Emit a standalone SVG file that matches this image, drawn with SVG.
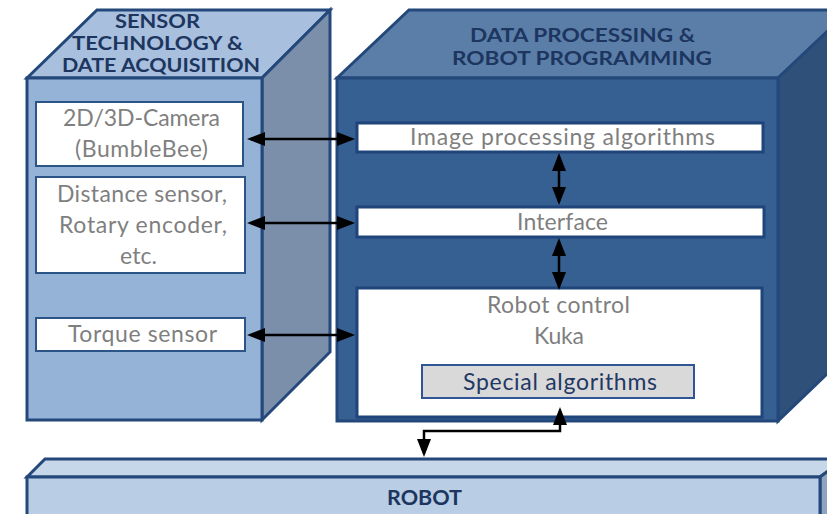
<svg xmlns="http://www.w3.org/2000/svg" width="827" height="514" viewBox="0 0 827 514">
  <style>
    .edge { stroke: #24487a; stroke-width: 3; stroke-linejoin: miter; }
    .title { font-family: Lato, "Liberation Sans", sans-serif; font-weight: bold; font-size: 18.5px; fill: #1d3660; text-anchor: middle; }
    .lbl { font-family: Lato, "Liberation Sans", sans-serif; font-size: 23px; fill: #7f7f7f; text-anchor: middle; }
    .card { fill: #ffffff; stroke: #2b5487; stroke-width: 2; }
    .card2 { fill: #ffffff; stroke: #1f457a; stroke-width: 3; }
    .conn { stroke: #000000; stroke-width: 2.5; fill: none; }
  </style>
  <defs>
    <marker id="head" markerUnits="userSpaceOnUse" markerWidth="18" markerHeight="14" refX="14" refY="7" orient="auto-start-reverse" viewBox="0 0 18 14">
      <path d="M0,0 L18,7 L0,14 z" fill="#000000"/>
    </marker>
  </defs>

  <rect width="827" height="514" fill="#ffffff"/>

  <!-- Sensor block -->
  <g id="sensor-block">
    <polygon class="edge" points="27,78 97,10 330,10 262,78" fill="#a8bfde"/>
    <polygon class="edge" points="262,78 330,10 330,352 262,420" fill="#7b8fab"/>
    <rect class="edge" x="27" y="78" width="235" height="342" fill="#95b3d7"/>
    <text class="title" x="157.5" y="28" textLength="85" lengthAdjust="spacingAndGlyphs">SENSOR</text>
    <text class="title" x="157.5" y="50" textLength="171" lengthAdjust="spacingAndGlyphs">TECHNOLOGY &amp;</text>
    <text class="title" x="161" y="72" textLength="198" lengthAdjust="spacingAndGlyphs">DATE ACQUISITION</text>
  </g>

  <g id="camera">
    <rect class="card" x="36" y="102" width="207" height="64"/>
    <text class="lbl" x="141.5" y="126" textLength="157">2D/3D-Camera</text>
    <text class="lbl" x="141.5" y="157" textLength="133">(BumbleBee)</text>
  </g>

  <g id="distance-sensor">
    <rect class="card" x="36" y="177" width="209" height="96"/>
    <text class="lbl" x="142" y="202" textLength="170">Distance sensor,</text>
    <text class="lbl" x="143" y="233" textLength="168">Rotary encoder,</text>
    <text class="lbl" x="138.5" y="264" textLength="37">etc.</text>
  </g>

  <g id="torque-sensor">
    <rect class="card" x="36" y="318" width="209" height="33"/>
    <text class="lbl" x="142.5" y="342" textLength="149">Torque sensor</text>
  </g>

  <!-- Processing block -->
  <g id="processing-block">
    <polygon class="edge" points="337,78 409,10 850,10 778,78" fill="#5b7ea9"/>
    <polygon class="edge" points="778,78 850,10 850,352 778,421" fill="#2e5079"/>
    <rect class="edge" x="337" y="78" width="441" height="343" fill="#365f92"/>
    <text class="title" x="582.5" y="42" textLength="225" lengthAdjust="spacingAndGlyphs">DATA PROCESSING &amp;</text>
    <text class="title" x="582" y="65" textLength="260" lengthAdjust="spacingAndGlyphs">ROBOT PROGRAMMING</text>
  </g>

  <g id="image-processing">
    <rect class="card2" x="357" y="123" width="406" height="29"/>
    <text class="lbl" x="562.5" y="145" textLength="305">Image processing algorithms</text>
  </g>

  <g id="interface">
    <rect class="card2" x="357" y="207" width="407" height="30"/>
    <text class="lbl" x="562.5" y="230" textLength="91">Interface</text>
  </g>

  <g id="robot-control">
    <rect class="card2" x="357" y="288" width="405" height="129"/>
    <text class="lbl" x="558.5" y="313" textLength="143">Robot control</text>
    <text class="lbl" x="559" y="344" textLength="50">Kuka</text>
  </g>

  <g id="special-algorithms">
    <rect x="422" y="365" width="272" height="33" fill="#d9d9d9" stroke="#2f5597" stroke-width="2"/>
    <text class="lbl" x="560" y="390" textLength="194" style="fill:#1f3864">Special algorithms</text>
  </g>

  <!-- Robot bar -->
  <g id="robot">
    <polygon class="edge" points="27,477 45,459 845,459 820,477" fill="#c6d7ea"/>
    <polygon class="edge" points="820,477 845,459 845,540 820,540" fill="#8ea4c0"/>
    <rect class="edge" x="27" y="477" width="793" height="60" fill="#b9cde5"/>
    <text class="title" x="424.5" y="505" style="font-size:21px" textLength="75" lengthAdjust="spacingAndGlyphs">ROBOT</text>
  </g>

  <!-- Connectors -->
  <g id="connectors">
    <line class="conn" x1="251" y1="139" x2="351" y2="139" marker-start="url(#head)" marker-end="url(#head)"/>
    <line class="conn" x1="251" y1="223" x2="351" y2="223" marker-start="url(#head)" marker-end="url(#head)"/>
    <line class="conn" x1="251" y1="335" x2="351" y2="335" marker-start="url(#head)" marker-end="url(#head)"/>
    <line class="conn" x1="559" y1="157" x2="559" y2="201" marker-start="url(#head)" marker-end="url(#head)"/>
    <line class="conn" x1="559" y1="242" x2="559" y2="286" marker-start="url(#head)" marker-end="url(#head)"/>
    <polyline class="conn" points="424,453 424,431 560,431 560,411" marker-start="url(#head)" marker-end="url(#head)"/>
  </g>
</svg>
